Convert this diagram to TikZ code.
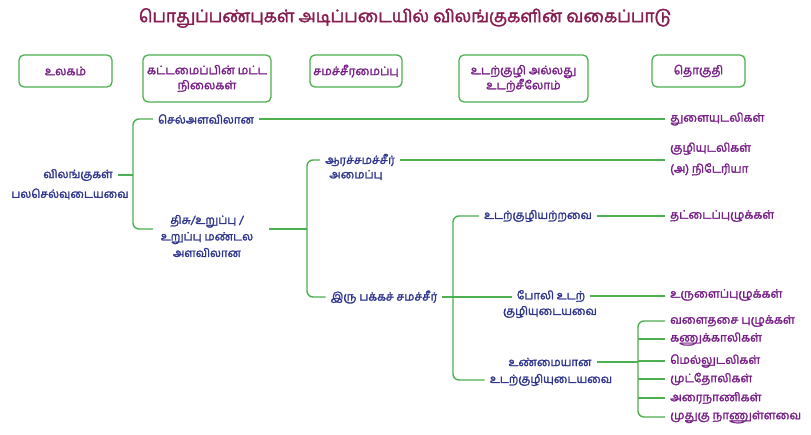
\documentclass[tikz,border=0pt]{standalone}
\usepackage{fontspec}
\usepackage{xcolor}
\usepackage{tikz}
\usetikzlibrary{calc}
\usetikzlibrary{positioning}
\newfontfamily\tamil[Script=Tamil,FakeBold=2]{Hind Madurai}
\definecolor{linegreen}{RGB}{76,175,80}
\definecolor{leafpurple}{RGB}{120,30,135}
\definecolor{treeblue}{RGB}{45,52,140}
\definecolor{titlered}{RGB}{135,28,80}

\begin{document}
\begin{tikzpicture}[x=1pt,y=-1pt,
                    head node/.style={draw=linegreen,line width=1.3pt,rounded corners=5pt,text=leafpurple,align=center,
                                      font=\tamil\fontsize{11.8}{15}\selectfont},
                    tree node/.style={text=treeblue,align=center,inner sep=5pt,font=\tamil\fontsize{11.4}{16.5}\selectfont},
                    leaf node/.style={text=leafpurple,anchor=west,align=left,inner sep=5pt,font=\tamil\fontsize{11.7}{21}\selectfont},
                    link/.style={draw=linegreen,line width=1.4pt,rounded corners=6pt}]

  \useasboundingbox (0,0) rectangle (811,434);

  \node[text=titlered,font=\tamil\fontsize{17.2}{20}\selectfont] (title) at (405,18) {பொதுப்பண்புகள் அடிப்படையில் விலங்குகளின் வகைப்பாடு};

  % column headings
  \node[head node,minimum width=93,minimum height=32] (h1) at (65.5,71) {உலகம்};
  \node[head node,minimum width=128,minimum height=47] (h2) at (207,78.5) {கட்டமைப்பின் மட்ட\\நிலைகள்};
  \node[head node,minimum width=92,minimum height=32] (h3) at (356,71) {சமச்சீரமைப்பு};
  \node[head node,minimum width=129,minimum height=47] (h4) at (523.5,78.5) {உடற்குழி அல்லது\\உடற்சீலோம்};
  \node[head node,minimum width=93,minimum height=32] (h5) at (698.5,71) {தொகுதி};

  % tree
  \node[tree node] (root1) at (78,175) {விலங்குகள்};
  \node[tree node] (root2) at (70,194) {பலசெல்வுடையவை};
  \node[tree node] (cell) at (206,119) {செல்அளவிலான};
  \node[tree node] (tissue) at (207,236) {திசு/உறுப்பு /\\உறுப்பு மண்டல\\அளவிலான};
  \node[tree node] (radial1) at (360,160) {ஆரச்சமச்சீர்};
  \node[tree node] (radial2) at (356,175) {அமைப்பு};
  \node[tree node] (bilat) at (384,297) {இரு பக்கச் சமச்சீர்};
  \node[tree node] (acoel) at (538,216) {உடற்குழியற்றவை};
  \node[tree node] (pseudo1) at (551,296) {போலி உடற்};
  \node[tree node] (pseudo2) at (550,312) {குழியுடையவை};
  \node[tree node] (true1) at (550,362) {உண்மையான};
  \node[tree node] (true2) at (551,380) {உடற்குழியுடையவை};

  % phyla
  \node[leaf node] (porif) at (665,119) {துளையுடலிகள்};
  \node[leaf node] (cnid) at (665,159) {குழியுடலிகள்\\(அ) நிடேரியா};
  \node[leaf node] (platy) at (665,216) {தட்டைப்புழுக்கள்};
  \node[leaf node] (nema) at (665,295) {உருளைப்புழுக்கள்};
  \node[leaf node] (annel) at (665,321) {வளைதசை புழுக்கள்};
  \node[leaf node] (arthro) at (665,339) {கணுக்காலிகள்};
  \node[leaf node] (moll) at (665,361) {மெல்லுடலிகள்};
  \node[leaf node] (echino) at (665,379) {முட்தோலிகள்};
  \node[leaf node] (hemi) at (665,398) {அரைநாணிகள்};
  \node[leaf node] (chord) at (665,417) {முதுகு நாணுள்ளவை};

  \coordinate (j1) at (133,175);
  \coordinate (tissueIn) at (153,229);
  \coordinate (tissueOut) at (269,229);
  \coordinate (j2) at (307,229);
  \coordinate (j3) at (453,297);
  \coordinate (j4) at (638,362);

  \draw[link] (root1.east) -- (j1);
  \draw[link] (cell.west) -| (j1) |- (tissueIn);
  \draw[link] (tissueOut) -- (j2);
  \draw[link] (radial1.west) -| (j2) |- (bilat.west);
  \draw[link] (acoel.west) -| (j3) |- (true2.west);
  \draw[link] (bilat.east) -- (bilat.east -| pseudo1.west);
  \draw[link] (true1.east) -- (j4);
  \draw[link] (annel.west) -| (j4) |- (chord.west);

  \path[link]
    (cell.east) edge (cell.east -| porif.west)
    (radial1.east) edge (radial1.east -| cnid.west)
    (acoel.east) edge (platy.west)
    (pseudo1.east) edge (pseudo1.east -| nema.west);

  \foreach \n in {arthro,moll,echino,hemi}
    \draw[link] (j4 |- \n.west) -- (\n.west);
\end{tikzpicture}
\end{document}
